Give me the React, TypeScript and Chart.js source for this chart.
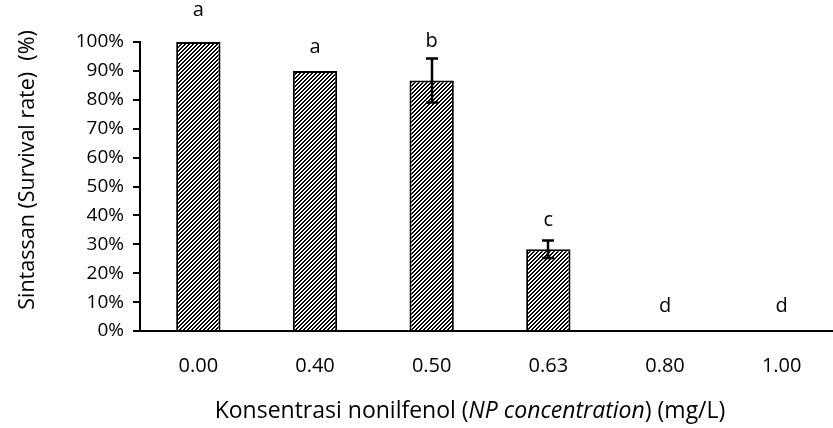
import React, { useEffect, useRef } from "react";
import { Chart, registerables } from "chart.js";

Chart.register(...registerables);

const categories = ["0.00", "0.40", "0.50", "0.63", "0.80", "1.00"];
const survival = [100, 90, 86.7, 28.3, 0, 0];
const errors = [0, 0, 7.6, 3.0, 0, 0];
const letters = ["a", "a", "b", "c", "d", "d"];
const letterHeights = [109, 96.2, 98.3, 36.3, 6.6, 6.6];
const yTicks = [0, 10, 20, 30, 40, 50, 60, 70, 80, 90, 100];

const FONT = "'Open Sans', sans-serif";
const XFS = 20;
const YFS = 19;
const TFS = 23;
const YTFS = 21.5;

function makePattern(): CanvasPattern | string {
  const c = document.createElement("canvas");
  c.width = 4;
  c.height = 4;
  const ctx = c.getContext("2d");
  if (!ctx) return "#888";
  const img = ctx.createImageData(4, 4);
  for (let y = 0; y < 4; y++) {
    for (let x = 0; x < 4; x++) {
      const i = (y * 4 + x) * 4;
      const on = (x + y) % 4 < 2;
      const v = on ? 0 : 255;
      img.data[i] = v;
      img.data[i + 1] = v;
      img.data[i + 2] = v;
      img.data[i + 3] = 255;
    }
  }
  ctx.putImageData(img, 0, 0);
  const p = ctx.createPattern(c, "repeat");
  return p || "#888";
}

const annotPlugin = {
  id: "annot",
  afterDatasetsDraw(chart: any) {
    const ctx = chart.ctx;
    const meta = chart.getDatasetMeta(0);
    const y = chart.scales.y;
    ctx.save();
    ctx.strokeStyle = "#000";
    ctx.lineWidth = 2.5;
    meta.data.forEach((bar: any, i: number) => {
      const e = errors[i];
      if (!e) return;
      const x = Math.round(bar.x);
      const top = y.getPixelForValue(survival[i] + e);
      const bot = y.getPixelForValue(survival[i] - e);
      ctx.beginPath();
      ctx.moveTo(x, top);
      ctx.lineTo(x, bot);
      ctx.moveTo(x - 6, top);
      ctx.lineTo(x + 6, top);
      ctx.moveTo(x - 6, bot);
      ctx.lineTo(x + 6, bot);
      ctx.stroke();
    });
    ctx.fillStyle = "#000";
    ctx.font = `${XFS}px ${FONT}`;
    ctx.textAlign = "center";
    ctx.textBaseline = "alphabetic";
    meta.data.forEach((bar: any, i: number) => {
      ctx.fillText(letters[i], bar.x, y.getPixelForValue(letterHeights[i]));
    });
    ctx.restore();
  },
  afterDraw(chart: any) {
    const ctx = chart.ctx;
    ctx.save();
    ctx.fillStyle = "#000";
    ctx.textBaseline = "middle";
    // y title
    ctx.save();
    ctx.translate(28, 170);
    ctx.rotate(-Math.PI / 2);
    ctx.textAlign = "center";
    ctx.font = `${YTFS}px ${FONT}`;
    ctx.fillText("Sintassan (Survival rate)  (%)", 0, 0);
    ctx.restore();
    // x title with italic part
    const parts = [
      { t: "Konsentrasi nonilfenol (", i: false },
      { t: "NP concentration", i: true },
      { t: ") (mg/L)", i: false },
    ];
    const fonts = parts.map((p) => `${p.i ? "italic " : ""}${TFS}px ${FONT}`);
    let total = 0;
    const widths = parts.map((p, k) => {
      ctx.font = fonts[k];
      const w = ctx.measureText(p.t).width;
      total += w;
      return w;
    });
    let x = 470 - total / 2;
    ctx.textAlign = "left";
    parts.forEach((p, k) => {
      ctx.font = fonts[k];
      ctx.fillText(p.t, x, 411);
      x += widths[k];
    });
    ctx.restore();
  },
};

export default function App() {
  const ref = useRef<HTMLCanvasElement | null>(null);
  useEffect(() => {
    if (!ref.current) return;
    const pattern = makePattern();
    const chart = new Chart(ref.current, {
      type: "bar",
      data: {
        labels: categories,
        datasets: [
          {
            data: survival,
            backgroundColor: pattern as any,
            borderColor: "#000",
            borderWidth: 2,
            barPercentage: 0.38,
            categoryPercentage: 1,
          },
        ],
      },
      options: {
        responsive: false,
        animation: false,
        devicePixelRatio: 1,
        layout: { padding: { top: 42, left: 0, right: 0, bottom: 0 } },
        plugins: {
          legend: { display: false },
          tooltip: { enabled: false },
        },
        scales: {
          x: {
            grid: { display: false },
            border: { display: true, color: "#000", width: 2 },
            ticks: {
              color: "#000",
              font: { family: FONT, size: XFS },
              padding: 15,
            },
            afterFit(scale: any) {
              scale.height = 97;
            },
          },
          y: {
            min: 0,
            max: 100,
            afterBuildTicks(scale: any) {
              scale.ticks = yTicks.map((v) => ({ value: v }));
            },
            grid: {
              display: true,
              drawOnChartArea: false,
              drawTicks: true,
              tickLength: 7,
              color: "#000",
              lineWidth: 2,
            },
            border: { display: true, color: "#000", width: 2 },
            ticks: {
              color: "#000",
              font: { family: FONT, size: YFS },
              padding: 9,
              callback: (v: any) => `${v}%`,
            },
            afterFit(scale: any) {
              scale.width = 140;
            },
          },
        },
      },
      plugins: [annotPlugin],
    });
    return () => chart.destroy();
  }, []);
  return (
    <div
      style={{
        position: "fixed",
        left: 0,
        top: 0,
        width: 833,
        height: 428,
        overflow: "hidden",
        background: "#fff",
      }}
    >
      <canvas ref={ref} width={840} height={428} style={{ display: "block" }} />
    </div>
  );
}
